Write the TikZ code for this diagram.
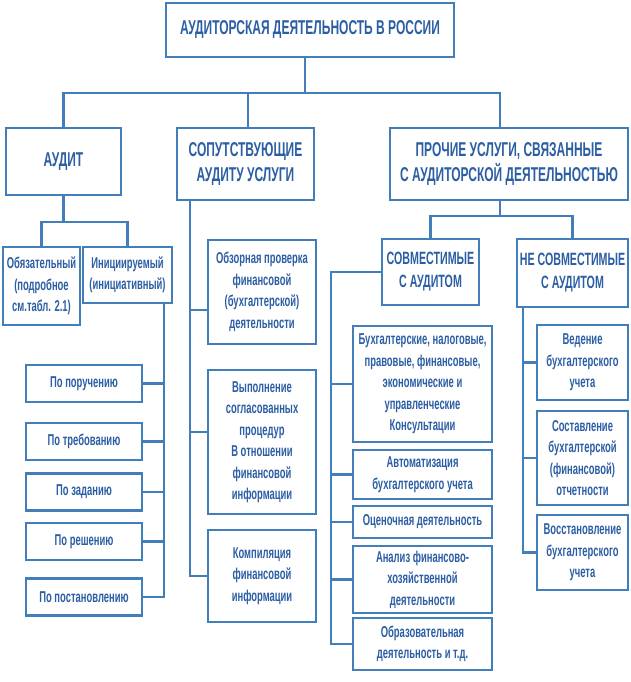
\documentclass[tikz,border=0pt]{standalone}
\usepackage{fontspec}
\setmainfont{Liberation Sans}[FakeStretch=0.6]
\usepackage{tikz}
\usetikzlibrary{positioning,calc}
\definecolor{auditline}{RGB}{66,126,186}
\definecolor{audittext}{RGB}{44,94,164}

\begin{document}
\begin{tikzpicture}[x=1pt,y=-1pt,
  box/.style={rectangle,draw=auditline,line width=2.3pt,text=audittext,fill=white,
    inner sep=0pt,align=center,font=\bfseries\fontsize{15.7}{21.5}\selectfont},
  head/.style={box,font=\bfseries\fontsize{20}{25}\selectfont},
  subhead/.style={box,font=\bfseries\fontsize{17.8}{23}\selectfont},
  link/.style={draw=auditline,line width=2.3pt}
]
\useasboundingbox[fill=white] (0,0) rectangle (630,682);
% top levels
\node[head,minimum width=288pt,minimum height=54pt] (top) at (310,30) {АУДИТОРСКАЯ ДЕЯТЕЛЬНОСТЬ В РОССИИ};
\node[head,minimum width=115pt,minimum height=67pt] (audit) at (63.5,161.5) {АУДИТ};
\node[head,minimum width=137pt,minimum height=72pt] (sop) at (245.5,164) {СОПУТСТВУЮЩИЕ\\АУДИТУ УСЛУГИ};
\node[head,minimum width=238pt,minimum height=72pt] (proch) at (509,164) {ПРОЧИЕ УСЛУГИ, СВЯЗАННЫЕ\\С АУДИТОРСКОЙ ДЕЯТЕЛЬНОСТЬЮ};
% audit
\node[box,minimum width=77pt,minimum height=78pt] (obyaz) at (41.5,286) {Обязательный\\(подробное\\см.табл. 2.1)};
\node[box,minimum width=89pt,minimum height=56pt] (inic) at (127.5,275) {Инициируемый\\(инициативный)};
\node[box,minimum width=116pt,minimum height=37pt] (po1) at (84,383.5) {По поручению};
\node[box,minimum width=116pt,minimum height=37pt] (po2) at (84,441.5) {По требованию};
\node[box,minimum width=116pt,minimum height=37pt] (po3) at (84,492) {По заданию};
\node[box,minimum width=116pt,minimum height=37pt] (po4) at (84,541.5) {По решению};
\node[box,minimum width=116pt,minimum height=37pt] (po5) at (84,597) {По постановлению};
% related services
\node[box,minimum width=108pt,minimum height=104pt] (obz) at (262,292) {Обзорная проверка\\финансовой\\(бухгалтерской)\\деятельности};
\node[box,minimum width=108pt,minimum height=144pt] (vyp) at (262,442) {Выполнение\\согласованных\\процедур\\В отношении\\финансовой\\информации};
\node[box,minimum width=108pt,minimum height=92pt] (komp) at (262,576) {Компиляция\\финансовой\\информации};
% other services
\node[subhead,minimum width=97pt,minimum height=66pt] (sovm) at (430.5,272) {СОВМЕСТИМЫЕ\\С АУДИТОМ};
\node[subhead,minimum width=111pt,minimum height=68pt] (nesovm) at (572.5,273) {НЕ СОВМЕСТИМЫЕ\\С АУДИТОМ};
\node[box,minimum width=139pt,minimum height=116pt] (buh) at (422.5,384) {Бухгалтерские, налоговые,\\правовые, финансовые,\\экономические и\\управленческие\\Консультации};
\node[box,minimum width=139pt,minimum height=49pt] (avto) at (422.5,474.5) {Автоматизация\\бухгалтерского учета};
\node[box,minimum width=139pt,minimum height=32pt] (ocen) at (422.5,522) {Оценочная деятельность};
\node[box,minimum width=139pt,minimum height=67pt] (anal) at (422.5,579.5) {Анализ финансово-\\хозяйственной\\деятельности};
\node[box,minimum width=139pt,minimum height=52pt] (obraz) at (422.5,644) {Образовательная\\деятельность и т.д.};
\node[box,minimum width=91pt,minimum height=75pt] (ved) at (582.5,362.5) {Ведение\\бухгалтерского\\учета};
\node[box,minimum width=91pt,minimum height=94pt] (sost) at (582.5,458) {Составление\\бухгалтерской\\(финансовой)\\отчетности};
\node[box,minimum width=91pt,minimum height=75pt] (vosst) at (582.5,552.5) {Восстановление\\бухгалтерского\\учета};
% connectors
\draw[link] ([xshift=-5pt]top.south) -- ++(0,35) coordinate (tb);
\draw[link] (audit.north) |- (tb) -| ([xshift=-9pt]proch.north);
\draw[link] ([xshift=2.5pt]sop.north) -- ([xshift=2.5pt]sop.north |- tb);
\draw[link] (audit.south) -- ++(0,26) coordinate (ab);
\draw[link] (obyaz.north) |- (ab) -| (inic.north);
\foreach \p in {po1,po2,po3,po4,po5}
  \draw[link] ([xshift=36.5pt]inic.south) |- (\p.east);
\draw[link] ([xshift=-55.5pt]sop.south) |- ([yshift=-18pt]obz.west);
\draw[link] ([xshift=-55.5pt]sop.south) |- ([yshift=10pt]vyp.west);
\draw[link] ([xshift=-55.5pt]sop.south) |- (komp.west);
\draw[link] ([xshift=-9pt]proch.south) -- ++(0,15) coordinate (pb);
\draw[link] (sovm.north) |- (pb) -| (nesovm.north);
\foreach \c in {buh,avto,ocen,anal,obraz}
  \draw[link] (sovm.west) -- ++(-50,0) |- (\c.west);
\foreach \c in {ved,sost,vosst}
  \draw[link] ([xshift=-49.5pt]nesovm.south) |- (\c.west);
\end{tikzpicture}
\end{document}
